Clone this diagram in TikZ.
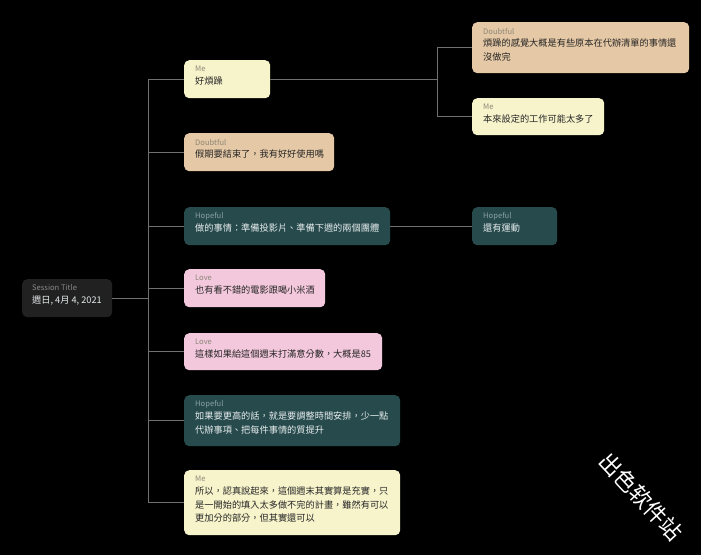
\documentclass[tikz,border=0pt]{standalone}
\usepackage{fontspec}
\setmainfont{Noto Sans CJK TC}
\newfontfamily\wmfont{Noto Sans CJK SC}
\usetikzlibrary{calc}
\definecolor{meC}{HTML}{F7F4CC}
\definecolor{doubtC}{HTML}{E5C8A5}
\definecolor{hopeC}{HTML}{274A4D}
\definecolor{loveC}{HTML}{F3C8DC}
\definecolor{sessC}{HTML}{212121}
\definecolor{lineC}{HTML}{707070}
\definecolor{darkT}{HTML}{262626}
\definecolor{lightT}{HTML}{E8EEEE}
\definecolor{lblLight}{HTML}{8C8676}
\definecolor{lblDark}{HTML}{8AA3A5}
\definecolor{lblSess}{HTML}{8A8A8A}
\tikzset{
  card/.style={rectangle, rounded corners=5pt, draw=none, inner sep=0pt, anchor=north west},
  me card/.style={card, fill=meC},
  doubt card/.style={card, fill=doubtC},
  hope card/.style={card, fill=hopeC},
  love card/.style={card, fill=loveC},
  me lbl/.style={text=lblLight}, doubt lbl/.style={text=lblLight},
  love lbl/.style={text=lblLight}, hope lbl/.style={text=lblDark},
  me txt/.style={text=darkT}, doubt txt/.style={text=darkT},
  love txt/.style={text=darkT}, hope txt/.style={text=lightT},
  sesscard/.style={card, fill=sessC},
  lbl/.style={inner sep=0pt, anchor=west, font=\fontsize{7.6}{8}\selectfont},
  txt/.style={inner sep=0pt, anchor=base west, align=left, font=\fontsize{9.2}{13.6}\selectfont},
  conn/.style={draw=lineC, line width=0.9pt},
}
% name, x, y, w, h, type, label, number of lines, text
\newcommand\mkcard[9]{%
  \node[#6 card, minimum width=#4pt, minimum height=#5pt] (#1) at (#2,#3) {};
  \node[lbl, #6 lbl] (#1l) at ($(#2,#3)+(11,9)$) {#7};
  \node[txt, #6 txt] (#1t) at ($(#2,#3)+(11,{24.5+13.6*(#8-1)})$) {#9};}
\begin{document}
\begin{tikzpicture}[x=1pt,y=-1pt]
\fill[black] (0,0) rectangle (701,555);
\useasboundingbox (0,0) rectangle (701,555);

\node[sesscard, minimum width=90pt, minimum height=38pt] (s) at (22,279) {};
\node[lbl, text=lblSess] (sl) at (32,288) {Session Title};
\node[txt, text=lightT] (st) at (32,303.5) {週日, 4月 4, 2021};

\mkcard{n1}{184}{60}{86}{38}{me}{Me}{1}{好煩躁}
\mkcard{n2}{184}{133}{150}{38}{doubt}{Doubtful}{1}{假期要結束了，我有好好使用嗎}
\mkcard{n3}{184}{207}{206}{38}{hope}{Hopeful}{1}{做的事情：準備投影片、準備下週的兩個團體}
\mkcard{n4}{184}{269}{141}{38}{love}{Love}{1}{也有看不錯的電影跟喝小米酒}
\mkcard{n5}{184}{333}{198}{37}{love}{Love}{1}{這樣如果給這個週末打滿意分數，大概是85}
\mkcard{n6}{184}{395}{216}{51}{hope}{Hopeful}{2}{如果要更高的話，就是要調整時間安排，少一點\\代辦事項、把每件事情的質提升}
\mkcard{n7}{184}{470}{216}{65}{me}{Me}{3}{所以，認真說起來，這個週末其實算是充實，只\\是一開始的填入太多做不完的計畫，雖然有可以\\更加分的部分，但其實還可以}
\mkcard{n8}{472}{22}{217}{51}{doubt}{Doubtful}{2}{煩躁的感覺大概是有些原本在代辦清單的事情還\\沒做完}
\mkcard{n9}{472}{98}{132}{37}{me}{Me}{1}{本來設定的工作可能太多了}
\mkcard{n10}{472}{207}{85}{38}{hope}{Hopeful}{1}{還有運動}

\coordinate (t1) at (148,0);
\coordinate (t2) at (437,0);
\foreach \n in {n1,n2,n3,n4,n5,n6,n7}{
  \draw[conn] (s.east) -- (s.east -| t1) |- (\n.west);
}
\foreach \n in {n8,n9}{
  \draw[conn] (n1.east) -- (n1.east -| t2) |- (\n.west);
}
\draw[conn] (n3.east) -- (n10.west);

\node[rotate=-47, text=white, inner sep=0pt, font=\wmfont\fontsize{22}{22}\selectfont] (wm) at (641,497) {出色软件站};
\end{tikzpicture}
\end{document}
